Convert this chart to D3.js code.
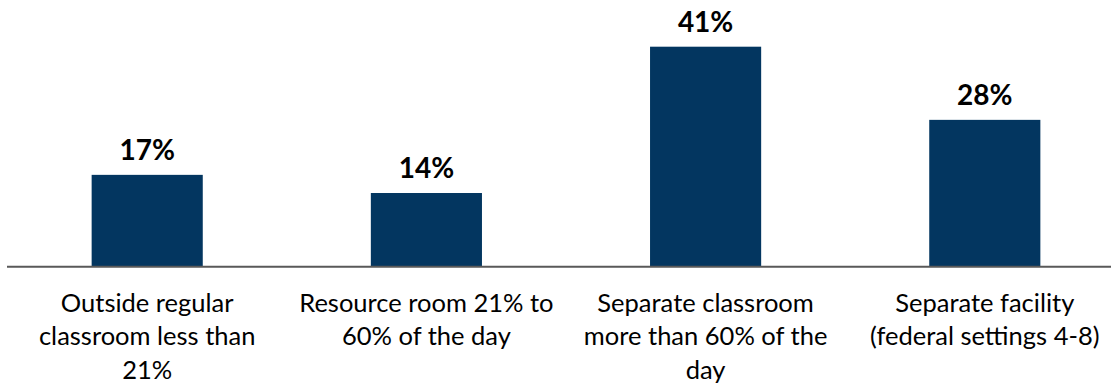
<!DOCTYPE html>
<html>
<head>
<meta charset="utf-8">
<script src="https://cdn.jsdelivr.net/npm/d3@7"></script>
<style>
  html, body { margin: 0; padding: 0; background: #fff; }
  svg { display: block; }
</style>
</head>
<body>
<svg id="chart" width="1111" height="389"></svg>
<script>
// Data
const categories = [
  "Outside regular classroom less than 21%",
  "Resource room 21% to 60% of the day",
  "Separate classroom more than 60% of the day",
  "Separate facility (federal settings 4-8)"
];
const categoryLines = [
  ["Outside regular", "classroom less than", "21%"],
  ["Resource room 21% to", "60% of the day"],
  ["Separate classroom", "more than 60% of the", "day"],
  ["Separate facility", "(federal settings 4-8)"]
];
const values = [17.2, 13.8, 41.2, 27.5];
const valueLabels = ["17%", "14%", "41%", "28%"];

const W = 1111, H = 389;
const baseY = 266.7, topY = 46.7;
const svg = d3.select("#chart");

const x = d3.scaleBand()
  .domain(categories)
  .range([7.6, 1124.4])
  .paddingInner(0.602)
  .paddingOuter(0.301);

const y = d3.scaleLinear()
  .domain([0, d3.max(values)])
  .range([baseY, topY]);

const data = categories.map((c, i) => ({ c, v: values[i], label: valueLabels[i], lines: categoryLines[i] }));

svg.selectAll("rect.bar")
  .data(data)
  .join("rect")
  .attr("class", "bar")
  .attr("x", d => x(d.c))
  .attr("width", x.bandwidth())
  .attr("y", d => y(d.v))
  .attr("height", d => y(0) - y(d.v))
  .attr("fill", "#033660");

// baseline axis
const axis = d3.axisBottom(x).tickSize(0).tickFormat("");
const ag = svg.append("g").attr("transform", `translate(0,${y(0)})`).call(axis);
ag.select(".domain").remove();
ag.append("line")
  .attr("x1", 7).attr("x2", W)
  .attr("y1", 0).attr("y2", 0)
  .attr("stroke", "#595959").attr("stroke-width", 2);

// value labels
svg.selectAll("text.val")
  .data(data)
  .join("text")
  .attr("class", "val")
  .attr("x", d => x(d.c) + x.bandwidth() / 2)
  .attr("y", d => y(d.v) - 15)
  .attr("text-anchor", "middle")
  .attr("font-family", "Lato, 'Open Sans', sans-serif")
  .attr("font-weight", "bold")
  .attr("font-size", 28)
  .attr("fill", "#000")
  .text(d => d.label);

// category labels
const cl = svg.selectAll("text.cat")
  .data(data)
  .join("text")
  .attr("class", "cat")
  .attr("x", d => x(d.c) + x.bandwidth() / 2)
  .attr("y", y(0) + 45)
  .attr("text-anchor", "middle")
  .attr("font-family", "Lato, 'Open Sans', sans-serif")
  .attr("font-size", 25.5)
  .attr("fill", "#000");
cl.selectAll("tspan")
  .data(d => d.lines.map(l => ({ l, x: x(d.c) + x.bandwidth() / 2 })))
  .join("tspan")
  .attr("x", t => t.x)
  .attr("dy", (t, i) => i === 0 ? 0 : 33.5)
  .text(t => t.l);
</script>
</body>
</html>
